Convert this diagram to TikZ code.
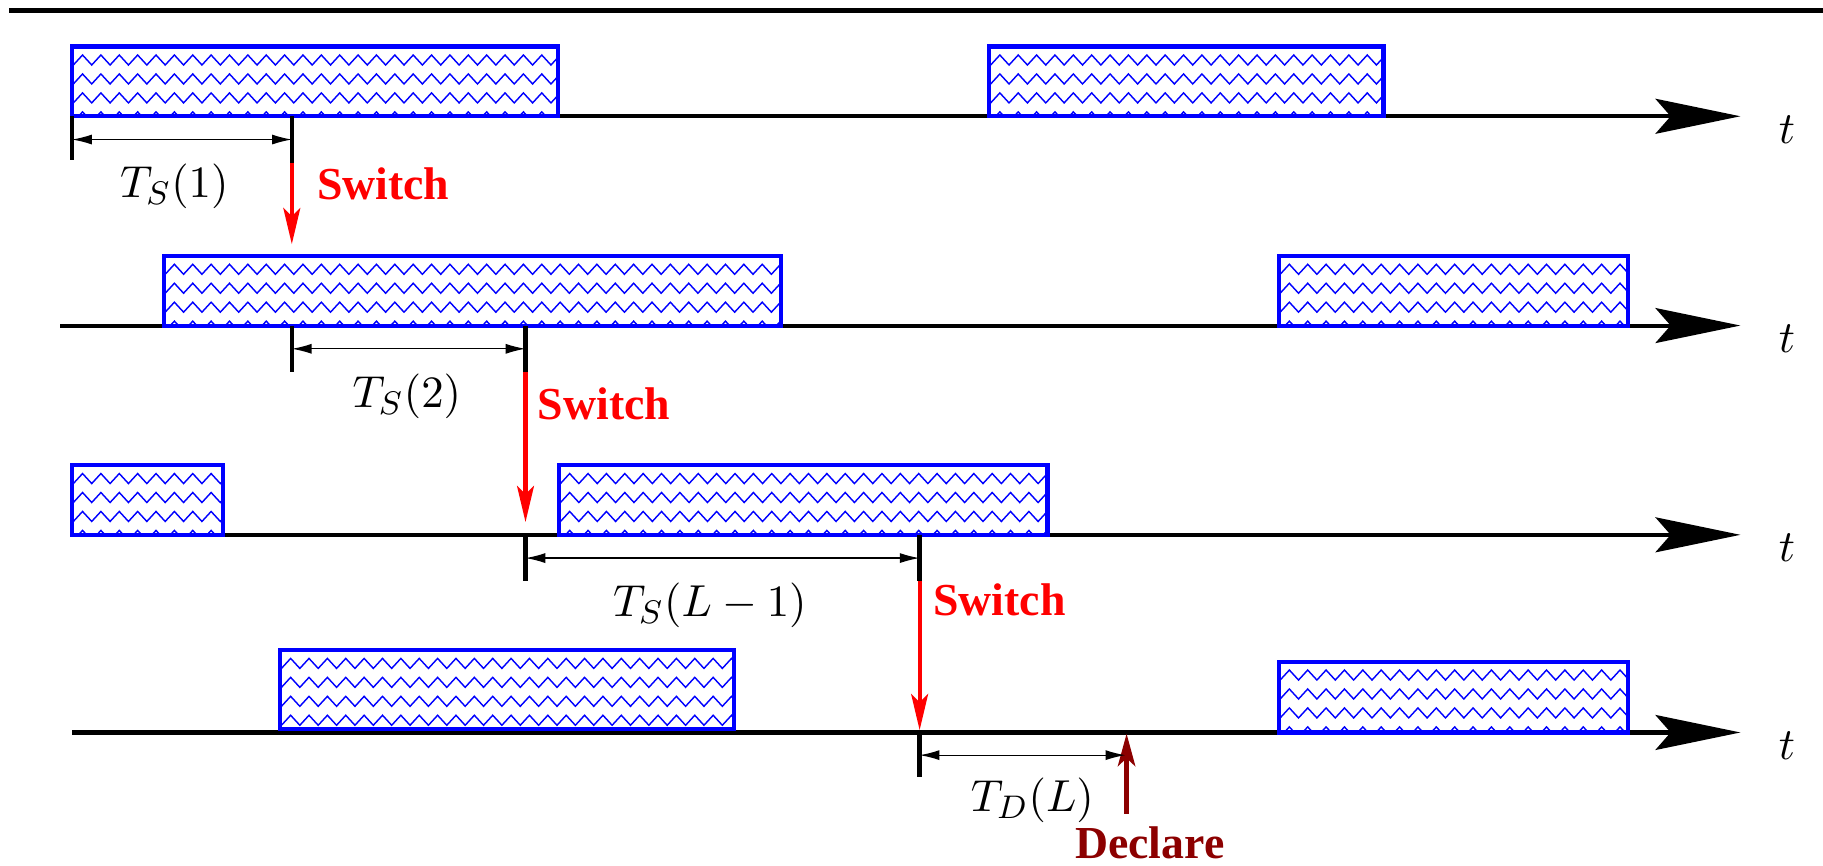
\documentclass[tikz,border=0pt]{standalone}
\usepackage[no-math]{fontspec}
\newfontfamily\serifbold{Liberation Serif}
\usetikzlibrary{arrows.meta}
\definecolor{declarecol}{RGB}{140,0,0}
\newcommand{\zzbox}[5]{%
  \begin{scope}
    \clip (#2,#3) rectangle (#4,#5);
    \foreach \k in {0,...,4} {
      \draw[zz] (#2-14.7,#3+15.9+16.3*\k)
        \foreach \j in {0,2,...,72} {
          -- (#2+1.1+\j*7.9,#3+15.9+16.3*\k) -- (#2+9+\j*7.9,#3+7.3+16.3*\k)
        };
    }
  \end{scope}
  \draw[boxst] (#2,#3) rectangle (#4,#5);
  \coordinate (#1) at (#2,#3);
}
\begin{document}
\begin{tikzpicture}[x=0.01cm,y=-0.01cm,
  axis/.style={line width=1pt,-{Stealth[length=0.73cm,width=0.30cm,inset=0.13cm]}},
  tickst/.style={line width=1.05pt},
  dimst/.style={line width=0.3pt,{Latex[length=0.17cm,width=0.086cm]}-{Latex[length=0.17cm,width=0.086cm]}},
  swarrow/.style={red,line width=1pt,-{Stealth[length=0.31cm,width=0.145cm,inset=0.07cm]}},
  decarrow/.style={declarecol,line width=1.1pt,-{Stealth[length=0.28cm,width=0.15cm,inset=0.07cm]}},
  boxst/.style={blue,line width=1pt},
  zz/.style={blue,line width=0.35pt,line join=miter},
  mathlab/.style={inner sep=0pt,anchor=base,font=\fontsize{10.95}{13}\selectfont},
  swlab/.style={inner sep=0pt,anchor=base west,red,font=\serifbold\bfseries\fontsize{11.2}{13}\selectfont},
  declab/.style={inner sep=0pt,anchor=base,declarecol,font=\serifbold\bfseries\fontsize{11.2}{13}\selectfont},
  tlab/.style={inner sep=0pt,anchor=base,font=\fontsize{10.95}{13}\selectfont}]
\useasboundingbox (0,0) rectangle (1568,744);

% top rule
\coordinate (topL) at (8,9);
\coordinate (topR) at (1568,9);
\draw[line width=1.15pt] (topL) -- (topR);

% axes
\coordinate (ax1s) at (62,100);  \coordinate (ax1e) at (1497,100);
\coordinate (ax2s) at (52,280);  \coordinate (ax2e) at (1497,280);
\coordinate (ax3s) at (62,460);  \coordinate (ax3e) at (1497,460);
\coordinate (ax4s) at (62,630);  \coordinate (ax4e) at (1497,630);
\draw[axis] (ax1s) -- (ax1e);
\draw[axis] (ax2s) -- (ax2e);
\draw[axis] (ax3s) -- (ax3e);
\draw[axis] (ax4s) -- (ax4e);
\node[tlab] (tt1) at (1537,123) {$t$};
\node[tlab] (tt2) at (1537,303) {$t$};
\node[tlab] (tt3) at (1537,483) {$t$};
\node[tlab] (tt4) at (1537,653) {$t$};

% boxes
\zzbox{b11}{62}{40}{480}{100}
\zzbox{b12}{851}{40}{1190}{100}
\zzbox{b21}{141}{220}{672}{280}
\zzbox{b22}{1100}{220}{1400}{280}
\zzbox{b31}{62}{400}{192}{460}
\zzbox{b32}{481}{400}{901}{460}
\zzbox{b41}{241}{559}{631}{627}
\zzbox{b42}{1100}{569}{1400}{630}

% row 1
\coordinate (p1a) at (62,100);  \coordinate (p1b) at (62,138);
\coordinate (p1c) at (251,100); \coordinate (p1d) at (251,140);
\coordinate (p1e) at (251,210);
\draw[tickst] (p1a) -- (p1b);
\draw[tickst] (p1c) -- (p1d);
\draw[swarrow] (p1d) -- (p1e);
\coordinate (d1a) at (62,120); \coordinate (d1b) at (251,120);
\draw[dimst] (d1a) -- (d1b);
\node[mathlab] (ts1) at (150,170) {$T_S(1)$};
\node[swlab] (sw1) at (272,171.5) {Switch};

% row 2
\coordinate (p2a) at (251,280); \coordinate (p2b) at (251,320);
\coordinate (p2c) at (452,280); \coordinate (p2d) at (452,320);
\coordinate (p2e) at (452,449);
\draw[tickst] (p2a) -- (p2b);
\draw[tickst] (p2c) -- (p2d);
\draw[swarrow] (p2d) -- (p2e);
\coordinate (d2a) at (251,300); \coordinate (d2b) at (452,300);
\draw[dimst] (d2a) -- (d2b);
\node[mathlab] (ts2) at (350,350.5) {$T_S(2)$};
\node[swlab] (sw2) at (462,360.5) {Switch};

% row 3
\coordinate (p3a) at (452,460); \coordinate (p3b) at (452,500);
\coordinate (p3c) at (791,460); \coordinate (p3d) at (791,500);
\coordinate (p3e) at (791,628);
\draw[tickst] (p3a) -- (p3b);
\draw[tickst] (p3c) -- (p3d);
\draw[swarrow] (p3d) -- (p3e);
\coordinate (d3a) at (452,480); \coordinate (d3b) at (791,480);
\draw[dimst] (d3a) -- (d3b);
\node[mathlab] (ts3) at (610.5,530.5) {$T_S(L-1)$};
\node[swlab] (sw3) at (802,529.8) {Switch};

% row 4
\coordinate (p4a) at (791,630); \coordinate (p4b) at (791,668);
\draw[tickst] (p4a) -- (p4b);
\coordinate (dcA) at (969,700); \coordinate (dcB) at (969,631);
\draw[decarrow] (dcA) -- (dcB);
\coordinate (d4a) at (791,649.5); \coordinate (d4b) at (968,649.5);
\draw[dimst] (d4a) -- (d4b);
\node[mathlab] (td4) at (888,698) {$T_D(L)$};
\node[declab] (dec) at (989,738) {Declare};
\end{tikzpicture}
\end{document}
